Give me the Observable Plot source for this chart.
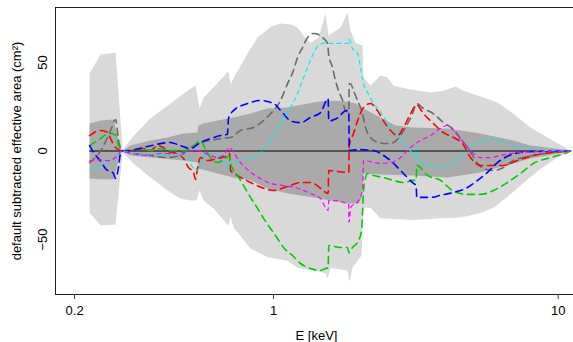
<!DOCTYPE html>
<html><head><meta charset="utf-8">
<script src="https://cdn.jsdelivr.net/npm/d3@7"></script>
<script src="https://cdn.jsdelivr.net/npm/@observablehq/plot@0.6"></script>
<style>html,body{margin:0;padding:0;background:#fff;overflow:hidden} svg{display:block}</style>
</head><body><div id="chart"></div>
<script>
// ---- data (E in keV, value in cm^2) ----
const xTicks = [0.2, 1, 10];
const yTicks = [-50, 0, 50];
const xDomain = [0.1714, 11.32];
const yDomain = [-81, 81];
const zeroE = [0.2258, 11.05];

const outerUpper = [[0.2258,43.7],[0.2468,54.5],[0.2633,55],[0.2786,55.5],[0.2950,0.5],[0.3219,8.5],[0.3698,18.5],[0.4242,25.5],[0.4712,31],[0.4985,34],[0.5320,37],[0.5406,31],[0.5494,24],[0.5675,30],[0.6152,36],[0.6671,42],[0.6945,45],[0.7063,37.5],[0.7231,41],[0.8105,55],[0.8786,64],[0.9760,70],[1.058,72],[1.147,71.4],[1.214,69.7],[1.274,65],[1.349,61],[1.439,64],[1.499,73.6],[1.523,77.6],[1.561,65],[1.719,69.7],[1.819,78],[1.864,68],[1.941,61],[2.054,59.5],[2.071,41.5],[2.191,37],[2.376,42.6],[2.514,41.5],[2.639,37],[2.955,35],[3.560,33],[3.955,34],[4.359,36.4],[4.650,34],[5.335,30.8],[6.121,27.4],[6.965,21],[7.993,13.3],[9.169,7.6],[11.05,0.3]];
const outerLower = [[0.2258,-34.7],[0.2468,-42],[0.2786,-41.5],[0.2950,-0.5],[0.3219,-7],[0.3698,-15],[0.4242,-22.3],[0.4712,-27],[0.5110,-28],[0.5363,-28],[0.5494,-22.3],[0.5675,-28],[0.6152,-32.4],[0.6671,-39],[0.6945,-42],[0.7063,-37],[0.7231,-43],[0.8301,-55],[0.9526,-60],[1.120,-62],[1.214,-66],[1.382,-67.4],[1.523,-69],[1.548,-72],[1.586,-66],[1.819,-67.4],[1.848,-74],[1.894,-66],[1.973,-62],[2.038,-59],[2.071,-32],[2.191,-32],[2.376,-38],[3.103,-39],[3.861,-38],[4.538,-37.5],[5.335,-35],[5.925,-32],[6.634,-26],[7.552,-18],[8.666,-10],[9.939,-3.7],[11.05,-0.3]];
const innerUpper = [[0.2258,15.5],[0.2468,17.2],[0.2741,17.8],[0.2902,1.4],[0.2950,0.3],[0.3146,3.1],[0.3698,5.9],[0.4242,7.6],[0.4827,9.9],[0.5406,10.4],[0.5450,14.4],[0.5675,15.5],[0.6355,17.2],[0.7231,18.9],[0.8301,21.2],[0.9526,24],[1.120,24.5],[1.214,25.7],[1.382,27.4],[1.548,28.5],[1.790,28],[1.941,26.8],[2.071,24],[2.376,18.9],[2.682,14.4],[3.103,13.3],[4.085,12.7],[5.335,9.9],[6.965,5.9],[7.993,3.1],[9.169,2],[11.05,0.3]];
const innerLower = [[0.2258,-15.5],[0.2468,-16],[0.2741,-16],[0.2902,-0.8],[0.2950,-0.3],[0.3146,-2.5],[0.3698,-3.7],[0.4827,-5.4],[0.5406,-6.5],[0.5450,-9.9],[0.6355,-12.7],[0.7231,-15],[0.8301,-16.6],[0.9526,-21.2],[1.120,-24],[1.382,-26.2],[1.586,-28],[1.819,-29.6],[1.989,-29.6],[2.038,-26.8],[2.071,-12.7],[2.376,-13.3],[3.103,-13.8],[4.085,-15],[5.335,-12.1],[6.965,-7],[7.993,-4.2],[9.169,-2.5],[11.05,-0.3]];

const grayLine = [[0.2258,-6.5],[0.2468,0],[0.2676,11.6],[0.2786,17.8],[0.2855,6],[0.2950,0],[0.3146,-1],[0.3698,-2.5],[0.4174,-3.7],[0.4712,-2.5],[0.5110,2],[0.5540,4.8],[0.6006,6],[0.6512,7],[0.7063,7.6],[0.7658,11.6],[0.8505,13.3],[0.9222,17.2],[0.9760,21],[1.058,28.5],[1.120,38],[1.175,45.4],[1.214,52.8],[1.264,58.4],[1.316,64],[1.382,66.3],[1.439,65.7],[1.499,63.5],[1.548,60.7],[1.561,55],[1.612,47],[1.652,39.5],[1.693,34],[1.748,28.5],[1.790,22.8],[1.838,22],[1.845,38],[1.864,38],[1.910,34],[1.973,28.5],[2.021,24.5],[2.054,21],[2.105,13.3],[2.191,7.6],[2.337,4.8],[2.514,4.2],[2.639,4.8],[2.793,8.7],[2.908,13.3],[3.078,21],[3.179,26.8],[3.365,24],[3.647,21],[3.955,16],[4.254,12.7],[4.538,7],[4.802,2],[5.000,-2.5],[5.207,-7],[5.466,-9.9],[5.925,-11],[6.424,-9.3],[6.965,-5.4],[7.552,-3.7],[8.188,-2.5],[9.626,-0.8],[11.05,0]];
const redLine = [[0.2258,8.7],[0.2468,11.6],[0.2612,10.5],[0.2676,7],[0.2786,2],[0.2950,0],[0.3219,0.3],[0.3484,1.4],[0.3698,0.3],[0.3912,3],[0.4107,2],[0.4242,-1.4],[0.4452,-0.8],[0.4827,-4.2],[0.5025,-9.3],[0.5234,-12],[0.5320,-16],[0.5406,-10],[0.5540,-3.7],[0.5861,-5.4],[0.6355,-4.2],[0.6889,-2.5],[0.700,-1.4],[0.7063,-11],[0.7469,-13.8],[0.8301,-17.8],[0.9222,-21],[1.000,-22.3],[1.120,-20],[1.244,-17.8],[1.349,-17.8],[1.463,-21],[1.555,-24],[1.563,-11],[1.819,-12.1],[1.838,-12.1],[1.845,3],[1.910,9.9],[1.973,17],[2.071,24.5],[2.191,26.8],[2.318,22.8],[2.434,17],[2.576,11.6],[2.726,8.7],[2.862,13.3],[3.029,21],[3.154,25.7],[3.179,26],[3.365,21],[3.647,15.5],[3.955,10.4],[4.289,7.6],[4.612,4.2],[4.920,-3.7],[5.335,-8.2],[5.925,-8.2],[6.424,-8.2],[7.193,-5.4],[8.188,-2.5],[9.626,-0.8],[11.05,0]];
const greenLine = [[0.2258,3],[0.2468,7],[0.2653,10],[0.2786,9],[0.2855,3],[0.2950,0],[0.3146,0.3],[0.3411,1.4],[0.3698,0.3],[0.4009,1.4],[0.4346,0.3],[0.4827,0.3],[0.5110,1.4],[0.5406,4.8],[0.5540,6],[0.5767,1],[0.6006,-3.7],[0.6355,-6.5],[0.6671,-5],[0.698,-3],[0.706,-7],[0.7469,-13.8],[0.7847,-19.5],[0.8301,-26.2],[0.8786,-32.4],[0.9222,-38],[0.9760,-43.7],[1.033,-49.4],[1.084,-54.5],[1.166,-59],[1.244,-63.5],[1.349,-66.3],[1.463,-67.4],[1.523,-66.3],[1.555,-66],[1.563,-53.3],[1.719,-54.5],[1.819,-54.5],[1.841,-57.4],[1.894,-54.5],[1.989,-50.5],[2.038,-44.9],[2.054,-35],[2.071,-22.3],[2.105,-15],[2.139,-12.7],[2.245,-13.8],[2.434,-15],[2.639,-16.6],[2.862,-17.8],[3.103,-16.6],[3.17,-16.6],[3.185,-8],[3.475,-13.8],[3.861,-16.6],[4.254,-22.3],[4.802,-24.5],[5.335,-24.5],[5.925,-22.3],[6.634,-17.8],[7.372,-12.7],[8.188,-7],[9.396,-3.7],[10.78,-0.8],[11.05,0]];
const blueLine = [[0.2258,3],[0.2372,-2.5],[0.2468,-5.6],[0.2570,-10],[0.2741,-12.7],[0.2786,-15.5],[0.2855,-9],[0.2902,-1],[0.2950,0],[0.3146,0.3],[0.3698,3],[0.4346,4.8],[0.4712,3],[0.5110,1.4],[0.5540,4.8],[0.6006,7],[0.6512,8.7],[0.6889,9.5],[0.6945,18.3],[0.7231,22.8],[0.8105,26.8],[0.9000,28.5],[1.000,26.8],[1.084,21],[1.147,17],[1.244,16],[1.349,19],[1.463,21.7],[1.555,29.6],[1.563,17],[1.665,18.3],[1.804,22.8],[1.838,22.5],[1.845,0.3],[1.973,0.8],[2.245,0.3],[2.434,-2.5],[2.576,-5.4],[2.793,-11],[2.955,-15],[3.103,-18.3],[3.17,-19.5],[3.185,-26.2],[3.560,-26.2],[3.861,-25],[4.289,-23.4],[4.802,-20.6],[5.207,-16.6],[5.645,-12.1],[6.121,-6.5],[6.634,-3],[7.372,-0.8],[8.188,-0.3],[11.05,0]];
const cyanLine = [[0.2258,-11],[0.2468,-8],[0.2676,-5.4],[0.2832,-2.5],[0.2950,0],[0.3146,-1],[0.4009,-2.5],[0.4452,-1.4],[0.4985,-4.2],[0.5234,-9.9],[0.5406,-11],[0.5540,-7],[0.5675,-3.7],[0.5909,-1.4],[0.6355,-1.4],[0.6671,-5.4],[0.6945,-9.9],[0.7063,-5.4],[0.7469,-5.4],[0.8301,-3.7],[0.9000,-1.4],[0.9222,1],[0.9760,6],[1.033,12],[1.084,18],[1.147,24.5],[1.214,32.5],[1.264,39.8],[1.316,47],[1.371,54],[1.439,59.5],[1.523,61],[1.586,60.7],[1.838,60.7],[1.845,63],[1.894,57.8],[1.973,55],[2.021,47],[2.071,38],[2.139,33],[2.245,27],[2.376,22],[2.514,16],[2.682,10.5],[2.862,5],[3.029,0],[3.154,-3],[3.175,2],[3.205,-4.2],[3.365,-6.5],[3.647,-8.2],[3.955,-8.7],[4.289,-7],[4.538,-3.7],[4.802,0.3],[5.041,3],[5.466,6],[5.925,6.5],[6.424,4.8],[6.965,3],[7.799,1.4],[9.169,0.3],[11.05,0]];
const magentaLine = [[0.2258,-5.5],[0.2468,-5],[0.2676,-5.5],[0.2786,-3.5],[0.2950,0],[0.3146,-1.4],[0.3698,-2.5],[0.4009,-1.4],[0.4452,-1.4],[0.4827,-0.8],[0.5406,0.3],[0.5675,-0.8],[0.6006,-2.5],[0.6355,-3.7],[0.6671,-2.5],[0.7002,2],[0.7231,-0.8],[0.7658,-6.5],[0.8301,-12],[0.9000,-15.5],[0.9760,-18.3],[1.084,-19.5],[1.214,-21],[1.349,-24],[1.463,-26.8],[1.523,-32],[1.555,-33.6],[1.563,-28],[1.679,-28],[1.761,-29],[1.836,-30],[1.840,-40],[1.846,-40],[1.864,-32],[1.989,-28],[2.054,-22],[2.071,-5.4],[2.376,-7],[2.576,-6.5],[2.793,-3.7],[3.029,2],[3.284,6],[3.560,8.7],[3.861,12.7],[4.085,14.4],[4.289,11.6],[4.538,7],[4.802,2],[5.041,-1.4],[5.335,-3.7],[5.784,-3.7],[6.271,-2.5],[6.799,-1.4],[7.799,-0.6],[11.05,0]];

const series = [
  {data: grayLine, color: "#6b6b6b", w: 1.6, dash: "7,5"},
  {data: redLine, color: "#ff0000", w: 1.6, dash: "7,5"},
  {data: greenLine, color: "#00cd00", w: 1.6, dash: "7,5"},
  {data: blueLine, color: "#0000ff", w: 1.6, dash: "7,5"},
  {data: cyanLine, color: "#00f0f0", w: 1.2, dash: "4,4"},
  {data: magentaLine, color: "#ff00ff", w: 1.2, dash: "4,4"}
];

const polygon = (up, lo) => up.concat(lo.slice().reverse());

const chart = Plot.plot({
  width: 573, height: 342,
  marginLeft: 55, marginRight: 0, marginTop: 7, marginBottom: 48,
  style: {fontFamily: "'Liberation Sans', Arial, Helvetica, sans-serif", fontSize: "13px", background: "#fff", color: "#000"},
  x: {type: "log", domain: xDomain},
  y: {domain: yDomain, axis: null},
  marks: [
    Plot.line(polygon(outerUpper, outerLower), {x: d => d[0], y: d => d[1], fill: "#d9d9d9", stroke: "none"}),
    Plot.line(polygon(innerUpper, innerLower), {x: d => d[0], y: d => d[1], fill: "#aaaaaa", stroke: "none"}),
    Plot.line(zeroE, {x: d => d, y: () => 0, stroke: "#000", strokeWidth: 1.2}),
    ...series.map(s => Plot.line(s.data, {x: d => d[0], y: d => d[1], curve: "monotone-x", stroke: s.color, strokeWidth: s.w, strokeDasharray: s.dash})),
    Plot.ruleY([yDomain[0], yDomain[1]], {stroke: "#222", strokeWidth: 1}),
    Plot.ruleX([xDomain[0]], {stroke: "#222", strokeWidth: 1}),
    Plot.axisX(xTicks, {tickSize: 5, tickPadding: 6, tickFormat: d => String(d), label: null, stroke: "#444", fill: "#000", fontSize: 13}),
    Plot.text(yTicks, {y: d => d, text: d => d < 0 ? "\u2212" + Math.abs(d) : String(d), frameAnchor: "left", rotate: -90, textAnchor: "middle", lineAnchor: "bottom", dx: -9, fontSize: 13, fill: "#000"}),
    Plot.text(["default subtracted effective area (cm\u00b2)"], {frameAnchor: "left", rotate: -90, textAnchor: "middle", lineAnchor: "bottom", dx: -35, fontSize: 13, fill: "#000"}),
    Plot.text(["E [keV]"], {frameAnchor: "bottom", textAnchor: "middle", lineAnchor: "bottom", dx: 2, dy: 45, fontSize: 13, fill: "#000"})
  ]
});
document.getElementById("chart").appendChild(chart);
</script>
</body></html>
